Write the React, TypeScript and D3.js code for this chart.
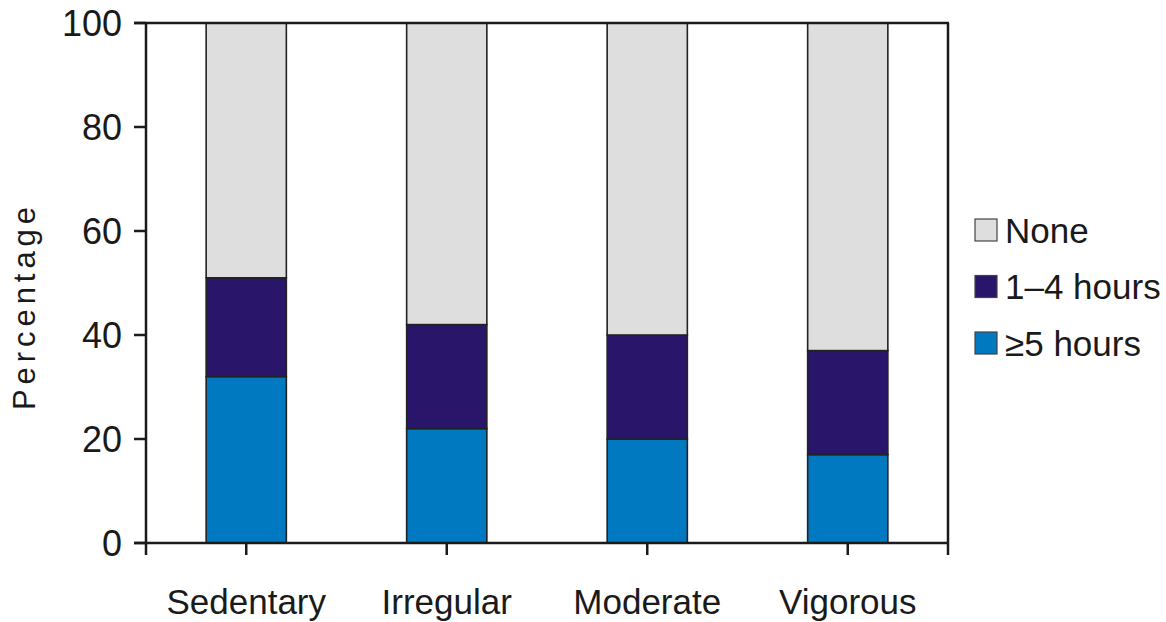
import React from "react";
import * as d3 from "d3";

const categories = ["Sedentary", "Irregular", "Moderate", "Vigorous"];
const fivePlus = [32, 22, 20, 17];
const oneToFour = [19, 20, 20, 20];
const none = [49, 58, 60, 63];
const seriesNames = ["None", "1–4 hours", "≥5 hours"];
const yTicks = [0, 20, 40, 60, 80, 100];

const colors: Record<string, string> = {
  "≥5 hours": "#0079c1",
  "1–4 hours": "#29166b",
  None: "#dedede",
};

const W = 1166;
const H = 622;
const left = 146;
const right = 948;
const top = 23;
const bottom = 543;
const FONT = "'Liberation Sans', Arial, sans-serif";

export default function App() {
  const x = d3.scaleBand<string>().domain(categories).range([left, right]).paddingInner(0.6).paddingOuter(0.3);
  const xc = d3.scaleBand<string>().domain(categories).range([left, right]);
  const y = d3.scaleLinear().domain([0, 100]).range([bottom, top]);

  const rows = categories.map((c, i) => ({
    cat: c,
    "≥5 hours": fivePlus[i],
    "1–4 hours": oneToFour[i],
    None: none[i],
  }));
  const keys = ["≥5 hours", "1–4 hours", "None"];
  const stack = d3.stack<any>().keys(keys)(rows);

  const bw = x.bandwidth();

  return (
    <svg width={W} height={H} style={{ position: "absolute", left: 0, top: 0, background: "#fff" }} fontFamily={FONT}>
      {stack.map((layer) =>
        layer.map((d, i) => (
          <rect
            key={layer.key + i}
            x={(xc(categories[i]) as number) + xc.bandwidth() / 2 - bw / 2}
            y={y(d[1])}
            width={bw}
            height={y(d[0]) - y(d[1])}
            fill={colors[layer.key]}
            stroke="#222"
            strokeWidth={1.6}
          />
        ))
      )}
      <line x1={left - 12} x2={right + 1} y1={top} y2={top} stroke="#1a1a1a" strokeWidth={2.5} />
      <line x1={right} x2={right} y1={top} y2={bottom} stroke="#1a1a1a" strokeWidth={2.5} />
      <line x1={left} x2={left} y1={top} y2={bottom + 12} stroke="#1a1a1a" strokeWidth={2.5} />
      <line x1={left - 12} x2={right + 1} y1={bottom} y2={bottom} stroke="#1a1a1a" strokeWidth={2.5} />
      <line x1={right} x2={right} y1={bottom} y2={bottom + 12} stroke="#1a1a1a" strokeWidth={2.5} />
      {yTicks.map((t) => (
        <g key={t}>
          <line x1={left - 12} x2={left} y1={y(t)} y2={y(t)} stroke="#1a1a1a" strokeWidth={2.5} />
          <text x={122} y={y(t)} dy="0.36em" textAnchor="end" fontSize={36} fill="#1a1a1a">
            {t}
          </text>
        </g>
      ))}
      {categories.map((c) => {
        const cx = (xc(c) as number) + xc.bandwidth() / 2;
        return (
          <g key={c}>
            <line x1={cx} x2={cx} y1={bottom} y2={bottom + 12} stroke="#1a1a1a" strokeWidth={2.5} />
            <text x={cx} y={614} textAnchor="middle" fontSize={35} fill="#1a1a1a">
              {c}
            </text>
          </g>
        );
      })}
      <text
        transform={`translate(35,${(207 + 410) / 2}) rotate(-90)`}
        textAnchor="middle"
        fontSize={31}
        fill="#1a1a1a"
        textLength={203}
        lengthAdjust="spacing"
      >
        Percentage
      </text>
      {seriesNames.map((s, i) => {
        const cy = 230 + i * 56.5;
        return (
          <g key={s}>
            <rect x={975} y={cy - 11} width={22} height={22} fill={colors[s]} stroke="#444" strokeWidth={1.2} />
            <text x={1005} y={cy} dy="0.36em" fontSize={35} fill="#1a1a1a">
              {s}
            </text>
          </g>
        );
      })}
    </svg>
  );
}
